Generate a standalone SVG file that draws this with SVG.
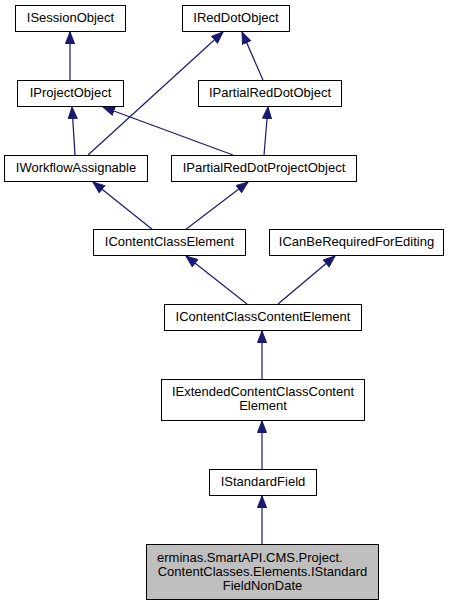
<svg xmlns="http://www.w3.org/2000/svg" width="449" height="605" viewBox="0 0 449 605">
<defs>
<style>
rect{fill:#fff;stroke:#000;stroke-width:1}
rect.cur{fill:#bfbfbf}
text{font-family:"Liberation Sans",Arial,sans-serif;font-size:13px;fill:#000;text-anchor:middle}
#edges line{stroke:#191970;stroke-width:1.2;marker-end:url(#arr)}
</style>
<marker id="arr" markerUnits="userSpaceOnUse" markerWidth="14" markerHeight="12" refX="12" refY="5" orient="auto">
<path d="M0.5,0.5 L12,5 L0.5,9.5 z" fill="#191970" stroke="#191970" stroke-width="1"/>
</marker>
</defs>
<rect x="0" y="0" width="449" height="605" style="fill:#fff;stroke:none"/>
<g id="edges">
<line x1="70" y1="80" x2="70" y2="32"/>
<line x1="75" y1="155" x2="72" y2="107"/>
<line x1="88" y1="155" x2="223" y2="32"/>
<line x1="263" y1="80" x2="242" y2="32"/>
<line x1="264" y1="155" x2="268" y2="107"/>
<line x1="233" y1="155" x2="103" y2="107"/>
<line x1="153" y1="230" x2="93" y2="182"/>
<line x1="185" y1="230" x2="248" y2="182"/>
<line x1="247" y1="304" x2="186" y2="256"/>
<line x1="278" y1="304" x2="335" y2="256"/>
<line x1="262" y1="379" x2="262" y2="331"/>
<line x1="262" y1="469" x2="262" y2="421"/>
<line x1="262" y1="544" x2="262" y2="496"/>
</g>
<g id="ISessionObject"><rect x="15.5" y="5.5" width="110" height="26"/><text x="70.5" y="22">ISessionObject</text></g>
<g id="IRedDotObject"><rect x="182.5" y="5.5" width="107" height="26"/><text x="236" y="22">IRedDotObject</text></g>
<g id="IProjectObject"><rect x="17.5" y="80.5" width="106" height="26"/><text x="70.5" y="97">IProjectObject</text></g>
<g id="IPartialRedDotObject"><rect x="198.5" y="80.5" width="143" height="26"/><text x="270" y="97">IPartialRedDotObject</text></g>
<g id="IWorkflowAssignable"><rect x="4.5" y="155.5" width="143" height="26"/><text x="76" y="172">IWorkflowAssignable</text></g>
<g id="IPartialRedDotProjectObject"><rect x="171.5" y="155.5" width="185" height="26"/><text x="264" y="172">IPartialRedDotProjectObject</text></g>
<g id="IContentClassElement"><rect x="93.5" y="229.5" width="152" height="26"/><text x="169.5" y="246">IContentClassElement</text></g>
<g id="ICanBeRequiredForEditing"><rect x="269.5" y="229.5" width="174" height="26"/><text x="356.5" y="246">ICanBeRequiredForEditing</text></g>
<g id="IContentClassContentElement"><rect x="164.5" y="304.5" width="197" height="26"/><text x="263" y="321">IContentClassContentElement</text></g>
<g id="IExtendedContentClassContentElement"><rect x="161.5" y="379.5" width="203" height="41"/><text x="263" y="396">IExtendedContentClassContent</text><text x="263" y="410">Element</text></g>
<g id="IStandardField"><rect x="209.5" y="469.5" width="107" height="26"/><text x="263" y="486">IStandardField</text></g>
<g id="IStandardFieldNonDate"><rect class="cur" x="146.5" y="544.5" width="232" height="55"/><text x="157" y="562" style="text-anchor:start">erminas.SmartAPI.CMS.Project.</text><text x="262.5" y="576">ContentClasses.Elements.IStandard</text><text x="262.5" y="590">FieldNonDate</text></g>
</svg>
